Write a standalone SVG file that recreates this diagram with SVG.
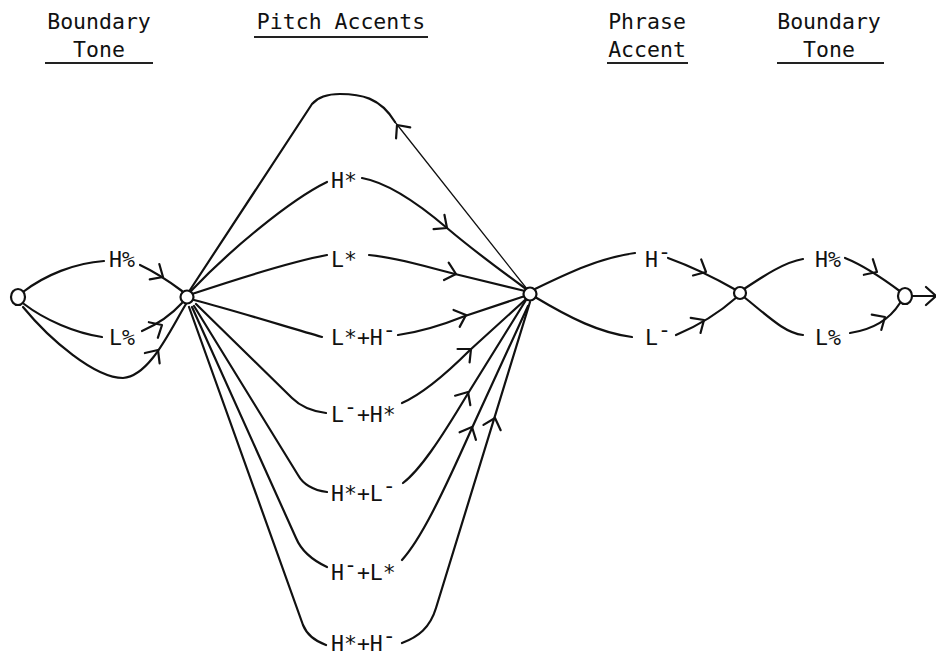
<svg xmlns="http://www.w3.org/2000/svg" xmlns:xlink="http://www.w3.org/1999/xlink" width="936" height="658" viewBox="0 0 936 658">
<style>
  text { font-family: "DejaVu Sans Mono", "Liberation Mono", monospace; font-size: 21.5px; fill: #111; }
  .hdr { text-anchor: middle; }
  .ul { stroke: #222; stroke-width: 2.2; fill: none; }
  .edge { fill: none; stroke: #111; stroke-width: 2.2; stroke-linecap: round; stroke-linejoin: round; }
  .thin { stroke-width: 1.3; }
  .arr { fill: none; stroke: #111; stroke-width: 2.2; stroke-linecap: round; stroke-linejoin: round; }
  .node { fill: #fff; stroke: #111; stroke-width: 2.2; }
</style>
<defs>
  <path id="chev" d="M-10,-9 L0,0 L-10,9"/>
</defs>
<rect width="936" height="658" fill="#fff"/>

<g id="headers">
  <text class="hdr" x="99" y="29">Boundary</text>
  <text class="hdr" x="99" y="57">Tone</text>
  <line class="ul" x1="45" y1="63" x2="153" y2="63"/>
  <text class="hdr" x="341" y="29">Pitch Accents</text>
  <line class="ul" x1="254" y1="37" x2="428" y2="37"/>
  <text class="hdr" x="647" y="29">Phrase</text>
  <text class="hdr" x="647" y="57">Accent</text>
  <line class="ul" x1="607" y1="63" x2="688" y2="63"/>
  <text class="hdr" x="829" y="29">Boundary</text>
  <text class="hdr" x="829" y="57">Tone</text>
  <line class="ul" x1="777" y1="63" x2="884" y2="63"/>
</g>

<g id="connectors">
  <!-- initial boundary tone -->
  <path class="edge" d="M23,292 C45,275 75,263 104,261"/>
  <path class="edge" d="M140,265 C155,272 170,282 182,291"/>
  <use href="#chev" class="arr" transform="translate(163,277) rotate(32)"/>
  <path class="edge" d="M24,304 C45,320 75,333 102,337"/>
  <path class="edge" d="M142,331 C158,324 172,314 182,303"/>
  <use href="#chev" class="arr" transform="translate(162,325) rotate(-30)"/>
  <path class="edge" d="M23,307 C50,340 95,378 123,378 C150,376 170,330 186,304"/>
  <use href="#chev" class="arr" transform="translate(158,350) rotate(-55)"/>

  <!-- loop back -->
  <path class="edge" d="M190,290 L312,104 C318,97 326,94 340,94 C360,94 380,97 395,122"/>
  <path class="edge thin" d="M395,122 L527,289"/>
  <use href="#chev" class="arr" transform="translate(397,125) rotate(-128)"/>

  <!-- pitch accents -->
  <path class="edge" d="M191,291 C230,250 290,200 327,182"/>
  <path class="edge" d="M362,178 C390,183 420,205 447,228 S500,270 526,289"/>
  <use href="#chev" class="arr" transform="translate(447,228) rotate(37)"/>

  <path class="edge" d="M192,294 C240,278 290,262 327,255"/>
  <path class="edge" d="M369,255 C400,258 430,268 455,274 L525,291"/>
  <use href="#chev" class="arr" transform="translate(456,274) rotate(15)"/>

  <path class="edge" d="M194,300 C240,312 290,328 322,337"/>
  <path class="edge" d="M398,335 C420,332 445,324 465,316 L525,296"/>
  <use href="#chev" class="arr" transform="translate(466,315) rotate(-20)"/>

  <path class="edge" d="M196,304 L292,398 C300,406 310,411 326,413"/>
  <path class="edge" d="M402,403 C420,395 440,380 470,350 L525,300"/>
  <use href="#chev" class="arr" transform="translate(471,349) rotate(-42)"/>

  <path class="edge" d="M194,306 L298,475 C303,484 312,490 327,492"/>
  <path class="edge" d="M403,483 C420,470 440,440 467,395 L526,300"/>
  <use href="#chev" class="arr" transform="translate(468,392) rotate(-58)"/>

  <path class="edge" d="M192,307 L296,538 C301,550 312,560 327,567"/>
  <path class="edge" d="M402,560 C420,540 440,500 472,428 L528,306"/>
  <use href="#chev" class="arr" transform="translate(472,427) rotate(-65)"/>

  <path class="edge" d="M189,307 L303,625 C307,635 315,641 326,645"/>
  <path class="edge" d="M402,643 C418,637 430,628 436,608 L530,302"/>
  <use href="#chev" class="arr" transform="translate(495,418) rotate(-73)"/>

  <!-- phrase accents -->
  <path class="edge" d="M535,289 C570,272 600,258 635,253"/>
  <path class="edge" d="M668,258 C690,266 715,278 736,290"/>
  <use href="#chev" class="arr" transform="translate(706,272) rotate(27)"/>
  <path class="edge" d="M535,297 C570,318 600,333 632,337"/>
  <path class="edge" d="M676,335 C700,325 720,312 737,297"/>
  <use href="#chev" class="arr" transform="translate(704,320) rotate(-33)"/>

  <!-- final boundary tone -->
  <path class="edge" d="M744,289 C765,275 785,262 803,259"/>
  <path class="edge" d="M845,258 C865,266 885,280 901,292"/>
  <use href="#chev" class="arr" transform="translate(877,272) rotate(30)"/>
  <path class="edge" d="M744,297 C770,318 785,333 803,335"/>
  <path class="edge" d="M850,333 C870,330 888,322 900,303"/>
  <use href="#chev" class="arr" transform="translate(885,317) rotate(-32)"/>

  <path class="edge" d="M912,296 L936,296"/>
  <use href="#chev" class="arr" transform="translate(936,296)"/>
</g>

<g id="n0"><ellipse class="node" cx="18" cy="297" rx="7" ry="8"/></g>
<g id="n1"><circle class="node" cx="187" cy="297" r="6.5"/></g>
<g id="n2"><circle class="node" cx="530" cy="294" r="6.5"/></g>
<g id="n3"><circle class="node" cx="740" cy="293" r="6"/></g>
<g id="n4"><ellipse class="node" cx="905" cy="296" rx="7" ry="8"/></g>

<g id="lbl-bt-H"><text x="109" y="267">H%</text></g>
<g id="lbl-bt-L"><text x="109" y="345">L%</text></g>
<g id="lbl-Hstar"><text x="331" y="188">H*</text></g>
<g id="lbl-Lstar"><text x="331" y="267">L*</text></g>
<g id="lbl-LstarH"><text x="331" y="345">L*+H<tspan dy="-8">-</tspan></text></g>
<g id="lbl-LHstar"><text x="331" y="422">L<tspan dy="-8">-</tspan><tspan dy="8">+H*</tspan></text></g>
<g id="lbl-HstarL"><text x="331" y="501">H*+L<tspan dy="-8">-</tspan></text></g>
<g id="lbl-HLstar"><text x="331" y="580">H<tspan dy="-8">-</tspan><tspan dy="8">+L*</tspan></text></g>
<g id="lbl-HstarH"><text x="331" y="651">H*+H<tspan dy="-8">-</tspan></text></g>
<g id="lbl-pa-H"><text x="645" y="267">H<tspan dy="-8">-</tspan></text></g>
<g id="lbl-pa-L"><text x="645" y="345">L<tspan dy="-8">-</tspan></text></g>
<g id="lbl-bt2-H"><text x="815" y="267">H%</text></g>
<g id="lbl-bt2-L"><text x="815" y="345">L%</text></g>
</svg>
